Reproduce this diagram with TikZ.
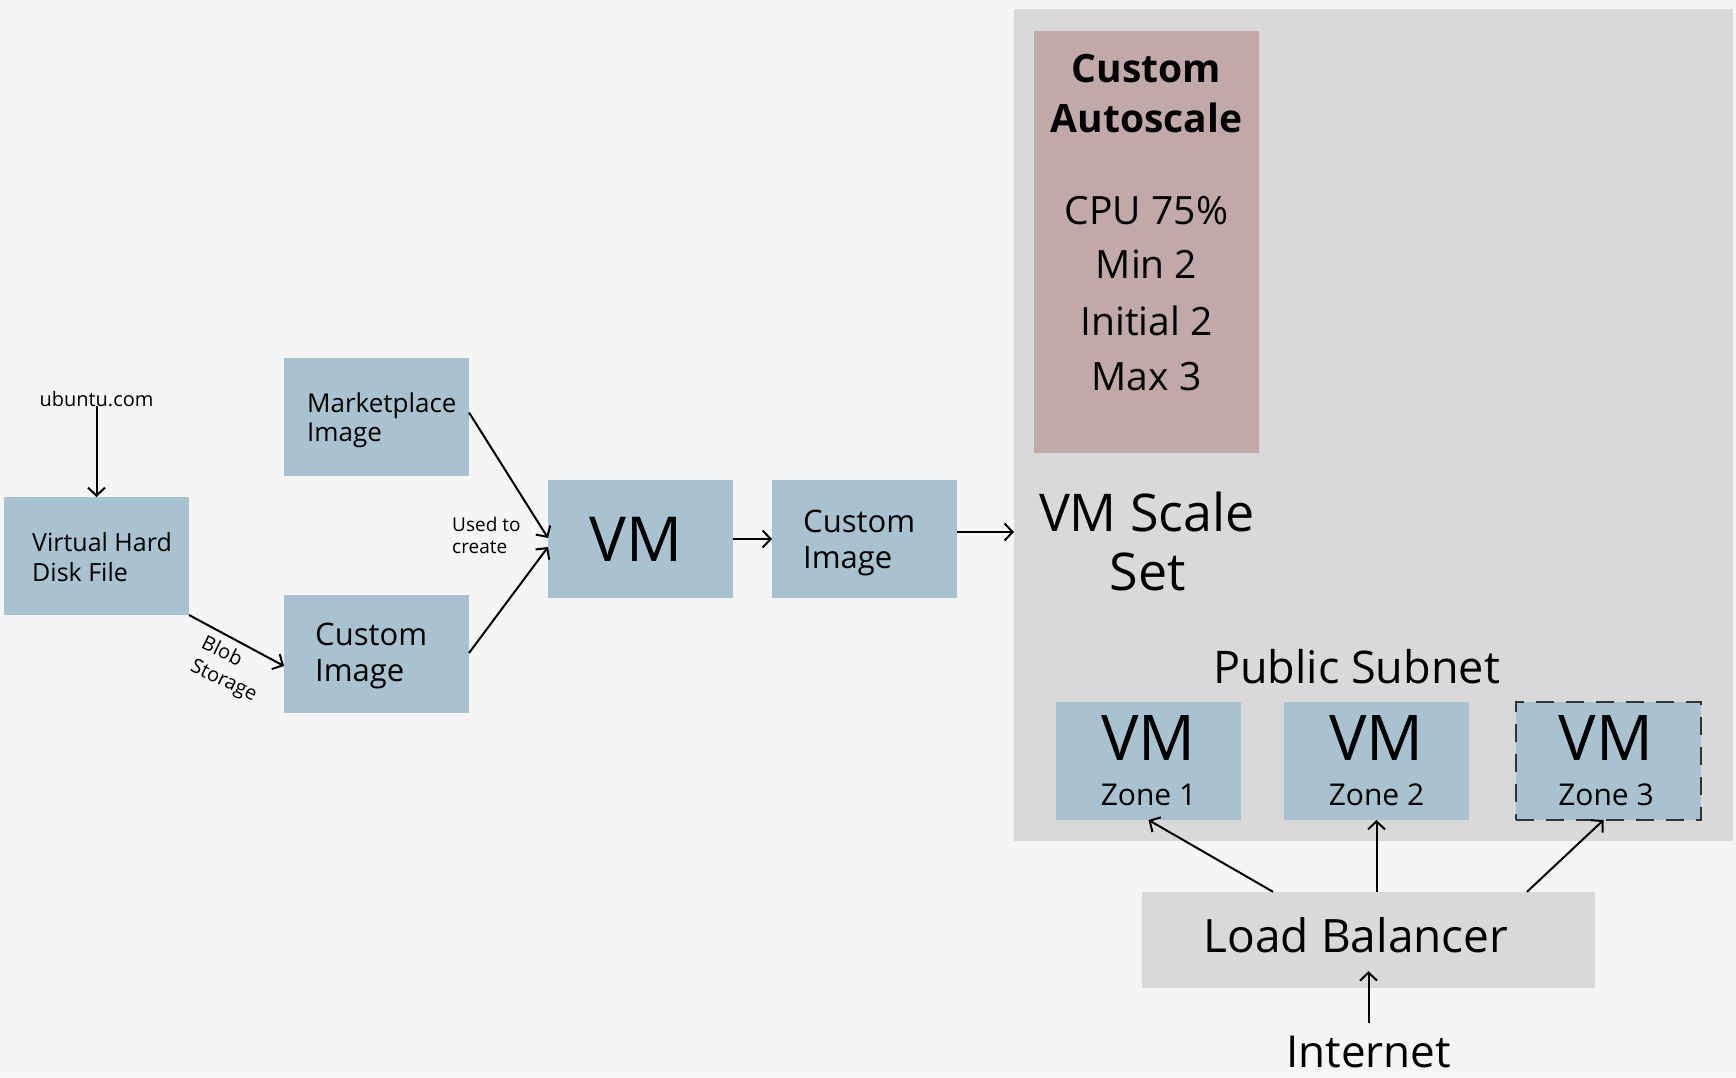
\documentclass[tikz,border=0pt]{standalone}
\usepackage{fontspec}
\setmainfont{Open Sans}
\usetikzlibrary{arrows.meta}
\definecolor{bg}{HTML}{F5F5F5}
\definecolor{boxblue}{HTML}{A9C2D0}
\definecolor{boxrose}{HTML}{C2A9A9}
\definecolor{boxgray}{HTML}{D9D9D9}
\definecolor{dashgray}{HTML}{333333}
\newcommand{\fsz}[1]{\fontsize{#1}{#1}\selectfont}
\begin{document}
\begin{tikzpicture}[x=1pt,y=-1pt,
  bluebox/.style={fill=boxblue, draw=none, minimum width=185pt, minimum height=118pt, inner sep=0pt, outer sep=0pt},
  arr/.style={-{Straight Barb[length=8pt,width=17pt]}, line width=2pt},
  txt/.style={inner sep=0pt, anchor=base},
  ltxt/.style={inner sep=0pt, anchor=base west}
]
\useasboundingbox[fill=bg] (0,0) rectangle (1736,1077);

% VM scale set container
\node[fill=boxgray, minimum width=719pt, minimum height=832pt, anchor=north west, inner sep=0pt] (vmss) at (1014,9) {};
\node[fill=boxrose, minimum width=225pt, minimum height=422pt, anchor=north west, inner sep=0pt] (auto) at (1034,31) {};
\node[txt, font=\bfseries\fsz{39}] (a1) at (1146.5,82) {Custom};
\node[txt, font=\bfseries\fsz{39}] (a2) at (1146.5,132) {Autoscale};
\node[txt, font=\fsz{39}] (a3) at (1146.5,224) {CPU 75\%};
\node[txt, font=\fsz{39}] (a4) at (1146.5,278) {Min 2};
\node[txt, font=\fsz{39}] (a5) at (1146.5,335) {Initial 2};
\node[txt, font=\fsz{39}] (a6) at (1146.5,390) {Max 3};

\node[txt, font=\fsz{52}] (s1) at (1147,531) {VM Scale};
\node[txt, font=\fsz{52}] (s2) at (1147.5,590) {Set};
\node[txt, font=\fsz{45}] (pub) at (1356.5,683) {Public Subnet};

\node[bluebox] (z1) at (1148.5,761) {};
\node[bluebox] (z2) at (1376.5,761) {};
\node[bluebox, draw=dashgray, line width=1.5pt, dash pattern=on 18pt off 12pt] (z3) at (1608.5,761) {};
\foreach \n/\x/\k in {z1/1148.5/1, z2/1376.5/2, z3/1606/3}{
  \node[txt, font=\fsz{63}] (\n vm) at (\x,760) {VM};
  \node[txt, font=\fsz{30}] (\n zn) at (\x,805) {Zone \k};
}

% load balancer and internet
\node[fill=boxgray, minimum width=453pt, minimum height=96pt, inner sep=0pt] (lb) at (1368.5,940) {};
\node[txt, font=\fsz{46}] (lbt) at (1356,952) {Load Balancer};
\node[txt, font=\fsz{44}] (inet) at (1368.5,1067) {Internet};

% left part
\node[txt, font=\fsz{20}] (ub) at (96.5,406) {ubuntu.com};
\node[bluebox] (vhd) at (96.5,556) {};
\node[ltxt, font=\fsz{25}] (vhd1) at (32,551) {Virtual Hard};
\node[ltxt, font=\fsz{25}] (vhd2) at (32,581) {Disk File};

\node[bluebox] (mp) at (376.5,416.5) {};
\node[ltxt, font=\fsz{26}] (mp1) at (307,412) {Marketplace};
\node[ltxt, font=\fsz{26}] (mp2) at (307,441) {Image};

\node[bluebox] (cl) at (376.5,654) {};
\node[ltxt, font=\fsz{31}] (cl1) at (315,645) {Custom};
\node[ltxt, font=\fsz{31}] (cl2) at (315,681) {Image};

\node[bluebox] (vm) at (640.5,539) {};
\node[txt, font=\fsz{62}] (vmt) at (636,561) {VM};

\node[bluebox] (cm) at (864.5,539) {};
\node[ltxt, font=\fsz{31}] (cm1) at (803,532) {Custom};
\node[ltxt, font=\fsz{31}] (cm2) at (803,568) {Image};

\node[ltxt, font=\fsz{19}] (u1) at (452,531) {Used to};
\node[ltxt, font=\fsz{19}] (u2) at (452,553) {create};

\node[inner sep=0pt, font=\fontsize{20}{25}\selectfont, align=left, rotate=-26] (blob) at (229,670) {Blob\\Storage};

% connectors
\draw[arr] (ub.south) -- (vhd.north);
\draw[arr] (vhd.south east) -- ([yshift=-12pt]cl.west);
\draw[arr] ([yshift=4pt]mp.east) -- ([yshift=1pt]vm.west);
\draw[arr] ([yshift=1pt]cl.east) -- ([yshift=-8pt]vm.west);
\draw[arr] (vm.east) -- (cm.west);
\draw[arr] ([yshift=7pt]cm.east) -- ([yshift=7pt]cm.east -| vmss.west);
\draw[arr] ([xshift=-95.5pt]lb.north) -- (z1.south);
\draw[arr] (lb.north -| z2.south) -- (z2.south);
\draw[arr] ([xshift=158.5pt]lb.north) -- ([xshift=-5pt]z3.south);
\draw[arr] ([yshift=12pt]inet.north) -- ([yshift=17pt]lb.south);
\end{tikzpicture}
\end{document}
